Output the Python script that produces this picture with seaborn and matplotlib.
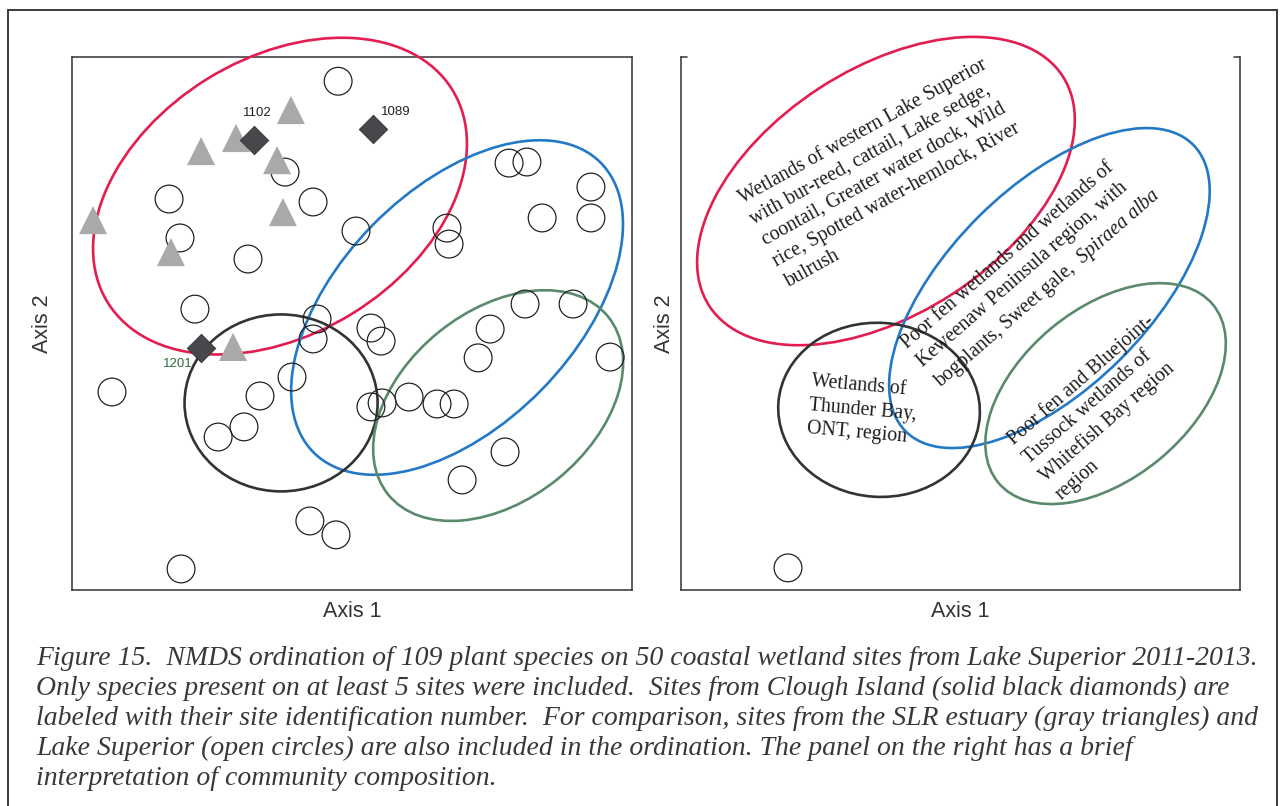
import matplotlib
matplotlib.use("Agg")
import matplotlib.pyplot as plt
from matplotlib.patches import Ellipse, Rectangle
import seaborn as sns

# ---- NMDS site scores -------------------------------------------------------
# Lake Superior coastal wetlands (open circles)
lake_x = [-0.052, 0.589, 0.656, 0.896, -0.251, -0.686, -0.146, 0.713, 0.896,
          -0.645, 0.015, 0.356, 0.364, -0.390, -0.589, -0.131, -0.146, 0.071,
          0.109, 0.649, 0.829, 0.518, 0.473, 0.968, -0.900, -0.225, -0.345,
          0.214, 0.071, 0.113, 0.319, 0.383, -0.405, -0.502, 0.574, 0.413,
          -0.158, -0.060, -0.641]
lake_y = [0.909, 0.602, 0.606, 0.512, 0.568, 0.467, 0.456, 0.396, 0.396,
          0.321, 0.347, 0.358, 0.298, 0.242, 0.054, 0.017, -0.058, -0.017,
          -0.066, 0.073, 0.073, -0.021, -0.129, -0.126, -0.257, -0.201, -0.272,
          -0.276, -0.313, -0.298, -0.302, -0.302, -0.388, -0.426, -0.482, -0.587,
          -0.741, -0.793, -0.921]

# St. Louis River estuary (gray triangles)
slr_x = [-0.229, -0.435, -0.566, -0.281, -0.259, -0.679, -0.446, -0.971]
slr_y = [0.801, 0.696, 0.647, 0.613, 0.418, 0.268, -0.088, 0.388]

# Clough Island (solid diamonds) with site ids
clough_x = [-0.368, 0.079, -0.566]
clough_y = [0.688, 0.729, -0.092]
clough_ids = ["1102", "1089", "1201"]
clough_label_colors = ["#222222", "#222222", "#2f6b3c"]
clough_label_offsets = [(3, 27), (23, 17), (-23, -16)]

# site shown alone in the interpretation panel
lone_x = [-0.648]
lone_y = [-0.917]

# ---- group ellipses: centre x, centre y, width, height, angle ---------------
group_colors = ["#e31d4f", "#2379c6", "#333333", "#5a8a6c"]
left_ellipses = [
    (-0.270, 0.478, 1.519, 1.035, 31.7),
    (0.394, 0.060, 1.530, 0.885, 45.5),
    (-0.266, -0.298, 0.724, 0.664, 0.0),
    (0.548, -0.308, 1.061, 0.709, 39.0),
]
right_ellipses = [
    (-0.280, 0.497, 1.583, 0.920, 33.0),
    (0.334, 0.133, 1.524, 0.755, 44.85),
    (-0.306, -0.324, 0.758, 0.653, -4.0),
    (0.545, -0.263, 1.047, 0.638, 39.6),
]

# ---- interpretation notes: text, anchor (start of last line), rotation ------
note_texts = [
    "Wetlands of western Lake Superior\nwith bur-reed, cattail, Lake sedge,\n"
    "coontail, Greater water dock, Wild\nrice, Spotted water-hemlock, River\nbulrush",
    "Poor fen wetlands and wetlands of\nKeweenaw Peninsula region, with\n"
    "bogplants, Sweet gale,  $\\it{Spiraea\\ alba}$",
    "Wetlands of\nThunder Bay,\nONT, region",
    "Poor fen and Bluejoint-\nTussock wetlands of\nWhitefish Bay region\nregion",
]
note_x = [-0.655, -0.090, -0.576, 0.366]
note_y = [0.152, -0.224, -0.394, -0.651]
note_rot = [29, 41, -5, 41]

caption_lines = [
    "Figure 15.  NMDS ordination of 109 plant species on 50 coastal wetland sites from Lake Superior 2011-2013.",
    "Only species present on at least 5 sites were included.  Sites from Clough Island (solid black diamonds) are",
    "labeled with their site identification number.  For comparison, sites from the SLR estuary (gray triangles) and",
    "Lake Superior (open circles) are also included in the ordination. The panel on the right has a brief",
    "interpretation of community composition.",
]

# ---- style -------------------------------------------------------------------
sns.set_style("white")
plt.rcParams["font.family"] = ["Liberation Sans", "DejaVu Sans"]
plt.rcParams["mathtext.fontset"] = "custom"
plt.rcParams["mathtext.rm"] = "Liberation Serif"
plt.rcParams["mathtext.it"] = "Liberation Serif:italic"

W, H = 1282, 806
fig = plt.figure(figsize=(W / 100, H / 100), dpi=100)
fig.patch.set_facecolor("white")

ax1 = fig.add_axes([72 / W, (H - 590) / H, 560 / W, 533 / H])
ax2 = fig.add_axes([681 / W, (H - 590) / H, 559 / W, 533 / H])

spine_color = "#333333"
for ax in (ax1, ax2):
    ax.set_xlim(-1.05, 1.05)
    ax.set_ylim(-1.0, 1.0)
    ax.set_xticks([])
    ax.set_yticks([])
    for sp in ax.spines.values():
        sp.set_color(spine_color)
        sp.set_linewidth(1.1)
    ax.set_xlabel("Axis 1", fontsize=15.5, color="#333333")
    ax.set_ylabel("Axis 2", fontsize=15.5, color="#333333")
    ax.xaxis.set_label_coords(0.5, -0.02)

ax1.yaxis.set_label_coords(-0.034, 0.5)
ax2.yaxis.set_label_coords(-0.011, 0.5)

# ---- left panel: ordination --------------------------------------------------
for (cx, cy, w, h, a), col in zip(left_ellipses, group_colors):
    ax1.add_patch(Ellipse((cx, cy), w, h, angle=a, fill=False, ec=col, lw=1.9,
                          zorder=3, clip_on=False))

sns.scatterplot(x=lake_x, y=lake_y, ax=ax1, marker="o", s=400,
                facecolor="none", edgecolor="#222222", linewidth=0.9, zorder=4)
sns.scatterplot(x=slr_x, y=slr_y, ax=ax1, marker="^", s=410,
                color="#a9a9aa", edgecolor="none", linewidth=0, zorder=5)
sns.scatterplot(x=clough_x, y=clough_y, ax=ax1, marker="D", s=210,
                color="#47474c", edgecolor="#333333", linewidth=0.6, zorder=6)

for cx, cy, lab, col, (dx, dy) in zip(clough_x, clough_y, clough_ids,
                                       clough_label_colors, clough_label_offsets):
    ax1.annotate(lab, (cx, cy), xytext=(dx, dy), textcoords="offset pixels",
                 ha="center", va="center", fontsize=9.5, color=col, zorder=7)

# ---- right panel: interpretation ----------------------------------------------
ax2.spines["top"].set_visible(False)
ax2.plot([0, 0.01], [1, 1], transform=ax2.transAxes, color=spine_color,
         lw=1.1, clip_on=False)
ax2.plot([0.99, 1], [1, 1], transform=ax2.transAxes, color=spine_color,
         lw=1.1, clip_on=False)

for (cx, cy, w, h, a), col in zip(right_ellipses, group_colors):
    ax2.add_patch(Ellipse((cx, cy), w, h, angle=a, fill=False, ec=col, lw=1.9,
                          zorder=3, clip_on=False))

sns.scatterplot(x=lone_x, y=lone_y, ax=ax2, marker="o", s=400,
                facecolor="none", edgecolor="#222222", linewidth=0.9, zorder=4)

for txt, tx, ty, rot in zip(note_texts, note_x, note_y, note_rot):
    ax2.text(tx, ty, txt, rotation=rot, rotation_mode="anchor", ha="left",
             va="baseline", multialignment="left", fontsize=14.3,
             family="Liberation Serif", color="#1e1e1e", linespacing=1.35,
             zorder=5)

# ---- caption and frame -------------------------------------------------------
fig.text(36 / W, 1 - 785 / H, "\n".join(caption_lines), ha="left", va="baseline",
         fontsize=20, family="Liberation Serif", style="italic",
         color="#383838", linespacing=1.26)

fig.add_artist(Rectangle((8 / W, -0.1), (1277 - 8) / W, (H - 10) / H + 0.1,
                         transform=fig.transFigure, fill=False,
                         ec="#3a3a3a", lw=1.4))

fig.savefig("out.png", dpi=100)
